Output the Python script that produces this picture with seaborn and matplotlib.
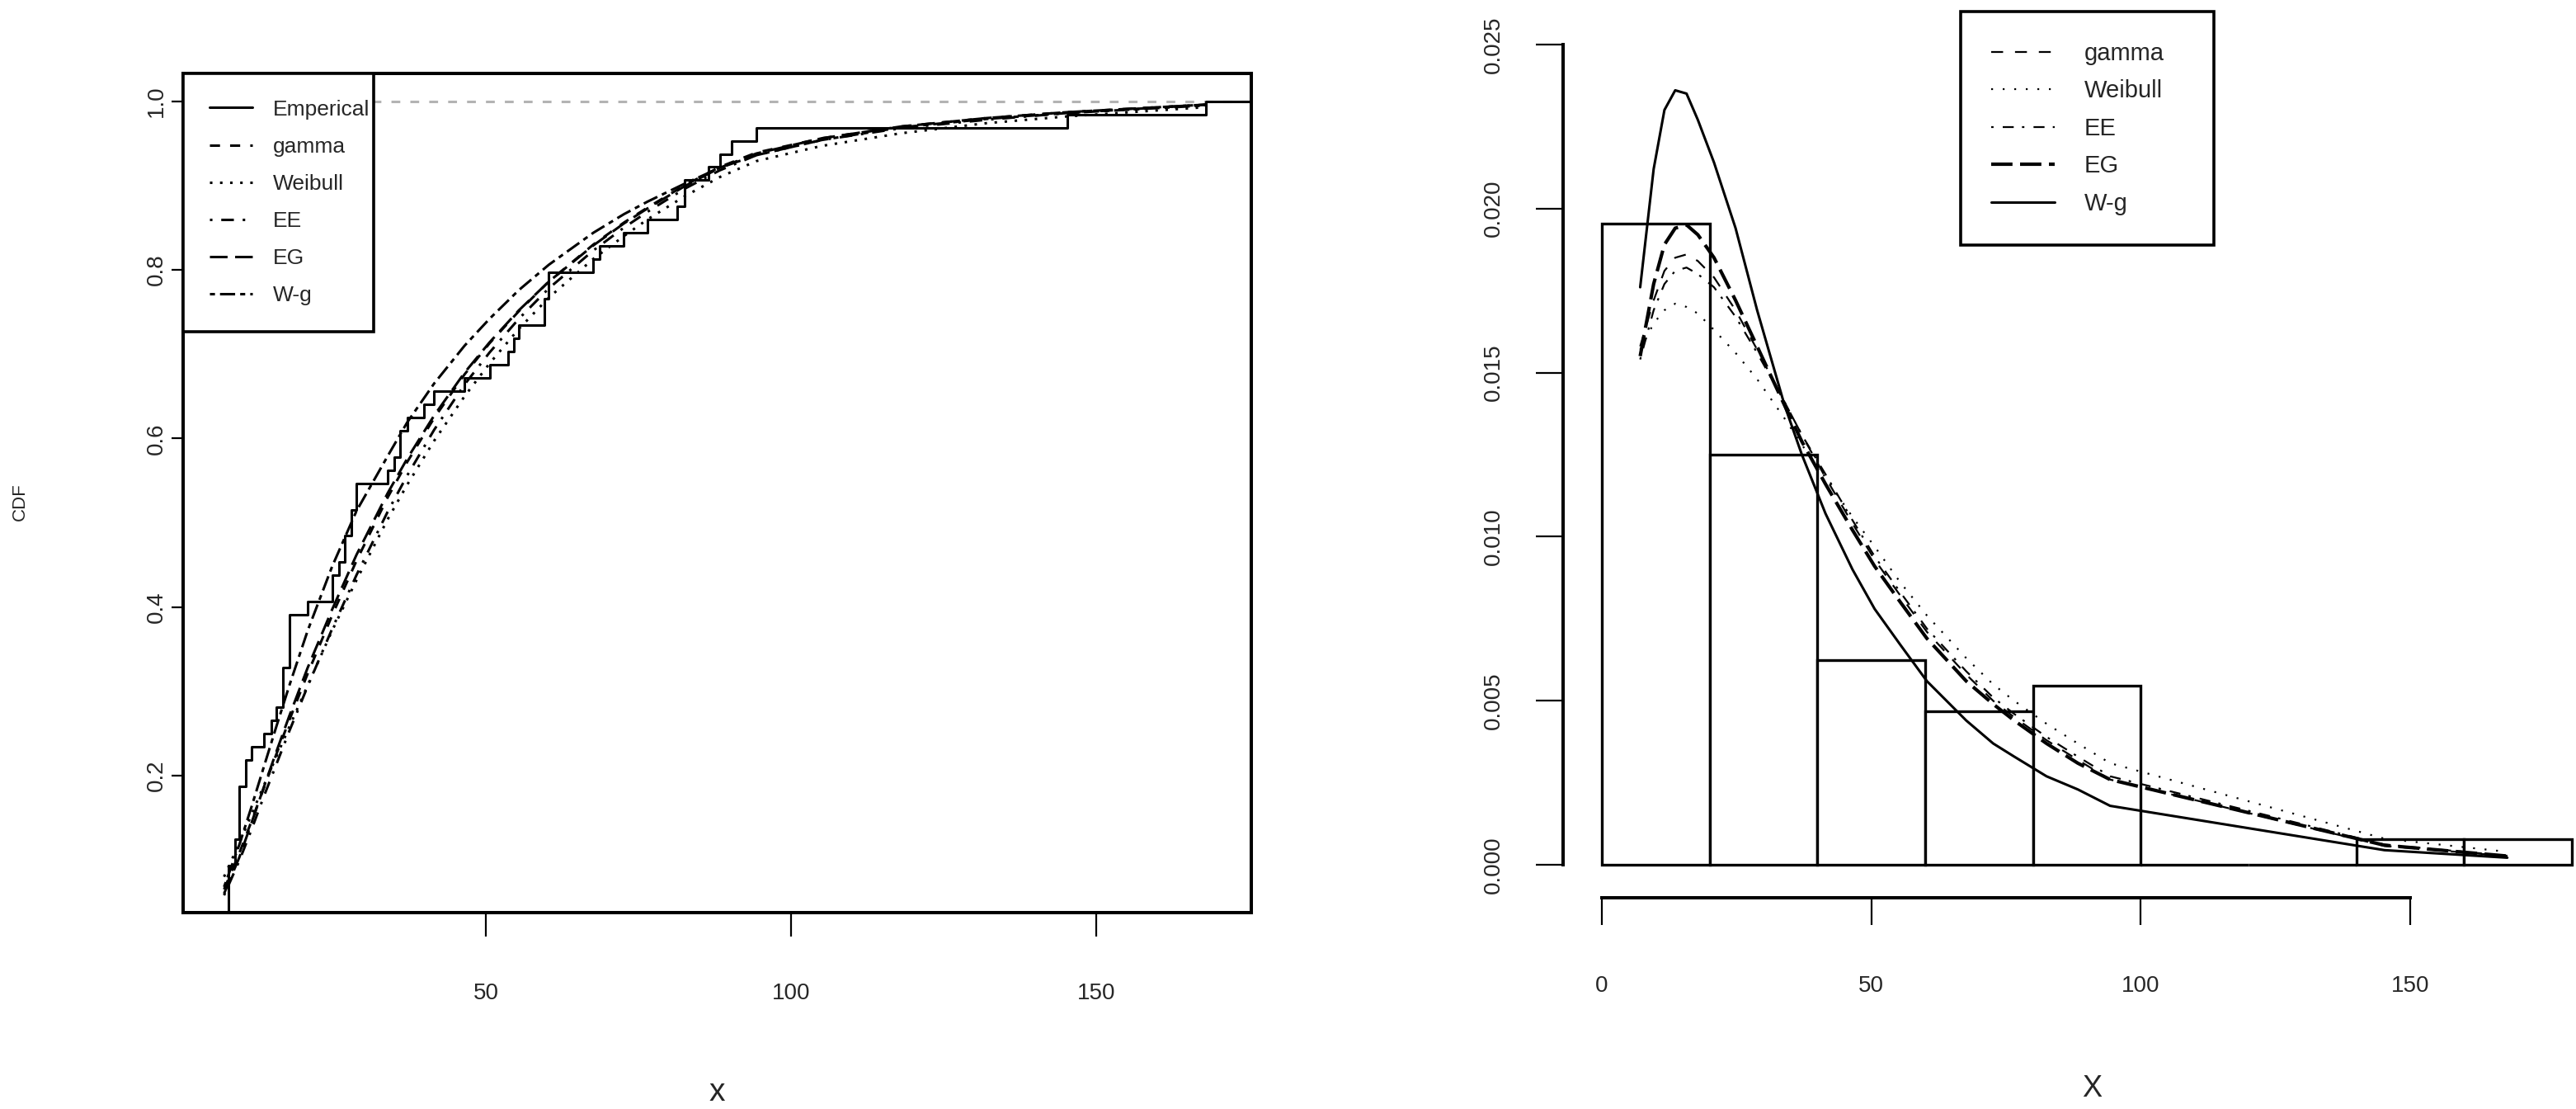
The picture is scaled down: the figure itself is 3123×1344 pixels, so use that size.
import numpy as np
import pandas as pd
import seaborn as sns
import matplotlib
matplotlib.use("Agg")
import matplotlib.pyplot as plt
from matplotlib.lines import Line2D

obs = [7.1, 7.5, 7.8, 7.8, 7.8, 7.8, 8.9, 8.9, 9.6, 9.6, 9.6, 9.6, 10.7, 10.7, 11.6,
       13.6, 14.8, 15.7, 16.8, 16.8, 16.8, 17.8, 17.8, 17.8, 17.8,
       20.8, 24.8, 24.8, 25.9, 26.9, 26.9, 27.9, 27.9, 28.8, 28.8, 33.9, 35.0, 35.9,
       35.9, 37.1, 39.9,
       41.5, 46.5, 50.6, 53.6, 54.6, 55.4, 59.6, 59.6,
       60.3, 60.3, 67.6, 68.6, 72.6, 76.5,
       81.4, 82.5, 82.5, 86.5, 88.3, 90.2, 94.3,
       145.2, 168.0]

hist_breaks = [0, 20, 40, 60, 80, 100, 120, 140, 160, 180]

# points where the fitted CDFs were drawn (left panel)
x_cdf = [7.1, 9.6, 11.6, 13.6, 15.7, 17.8, 20.8, 24.8, 28.8, 33.9, 37.1, 41.5, 46.5, 50.6,
         55.4, 60.3, 67.6, 72.6, 76.5, 82.5, 88.3, 94.3, 105.0, 118.0, 132.0, 145.2, 168.0]

cdf_gamma = [0.065, 0.108, 0.146, 0.185, 0.226, 0.266, 0.321, 0.390, 0.455, 0.530, 0.572, 0.624, 0.676,
             0.713, 0.751, 0.786, 0.830, 0.856, 0.874, 0.900, 0.922, 0.939, 0.956, 0.970, 0.980, 0.987, 0.996]
cdf_weibull = [0.080, 0.120, 0.154, 0.188, 0.223, 0.258, 0.307, 0.372, 0.432, 0.504, 0.545, 0.597, 0.650,
               0.689, 0.730, 0.767, 0.813, 0.840, 0.860, 0.887, 0.910, 0.929, 0.947, 0.962, 0.974, 0.982, 0.993]
cdf_ee = [0.058, 0.099, 0.136, 0.175, 0.214, 0.253, 0.306, 0.374, 0.438, 0.513, 0.556, 0.610, 0.664,
          0.702, 0.742, 0.778, 0.823, 0.850, 0.869, 0.896, 0.918, 0.936, 0.954, 0.968, 0.978, 0.986, 0.996]
cdf_eg = [0.060, 0.103, 0.144, 0.186, 0.229, 0.271, 0.328, 0.397, 0.462, 0.535, 0.576, 0.627, 0.678,
          0.714, 0.752, 0.786, 0.829, 0.855, 0.873, 0.899, 0.921, 0.938, 0.956, 0.970, 0.980, 0.987, 0.996]
cdf_wg = [0.068, 0.118, 0.163, 0.210, 0.259, 0.307, 0.372, 0.448, 0.514, 0.579, 0.619, 0.665, 0.710,
          0.742, 0.776, 0.806, 0.844, 0.866, 0.881, 0.902, 0.921, 0.936, 0.954, 0.969, 0.979, 0.986, 0.995]

# points where the fitted densities were drawn (right panel)
x_pdf = [7.1, 9.6, 11.6, 13.6, 15.7, 17.8, 20.8, 24.8, 28.8, 33.9, 37.1, 41.5,
         46.5, 50.6, 55.4, 60.3, 67.6, 72.6, 76.5, 82.5, 88.3, 94.3, 145.2, 168.0]

pdf_gamma = [0.0158, 0.0172, 0.0181, 0.0185, 0.0186, 0.0184, 0.0179, 0.0169, 0.0157, 0.0141, 0.0131, 0.0118,
             0.0104, 0.0093, 0.0082, 0.0071, 0.0058, 0.0050, 0.0045, 0.0038, 0.0032, 0.0026, 0.00058, 0.00027]
pdf_weibull = [0.0157, 0.0165, 0.0169, 0.0171, 0.0170, 0.0168, 0.0163, 0.0156, 0.0148, 0.0136, 0.0128, 0.0118,
               0.0106, 0.0097, 0.0086, 0.0076, 0.0063, 0.0055, 0.0050, 0.0043, 0.0037, 0.0031, 0.00080, 0.00040]
pdf_ee = [0.0154, 0.0169, 0.0177, 0.0181, 0.0182, 0.0180, 0.0176, 0.0167, 0.0156, 0.0141, 0.0131, 0.0119,
          0.0105, 0.0094, 0.0083, 0.0072, 0.0059, 0.0051, 0.0046, 0.0039, 0.0033, 0.0027, 0.00062, 0.00028]
pdf_eg = [0.0155, 0.0177, 0.0189, 0.0194, 0.0195, 0.0192, 0.0185, 0.0172, 0.0158, 0.0140, 0.0129, 0.0116,
          0.0102, 0.0091, 0.0080, 0.0069, 0.0056, 0.0049, 0.0044, 0.0037, 0.0031, 0.0026, 0.00060, 0.00027]
pdf_wg = [0.0176, 0.0212, 0.0230, 0.0236, 0.0235, 0.0227, 0.0214, 0.0194, 0.0169, 0.0140, 0.0125, 0.0107,
          0.0090, 0.0078, 0.0067, 0.0056, 0.0044, 0.0037, 0.0033, 0.0027, 0.0023, 0.0018, 0.00045, 0.00022]

models = ["gamma", "Weibull", "EE", "EG", "W-g"]
cdf_df = pd.DataFrame({"x": x_cdf, "gamma": cdf_gamma, "Weibull": cdf_weibull,
                       "EE": cdf_ee, "EG": cdf_eg, "W-g": cdf_wg})
pdf_df = pd.DataFrame({"x": x_pdf, "gamma": pdf_gamma, "Weibull": pdf_weibull,
                       "EE": pdf_ee, "EG": pdf_eg, "W-g": pdf_wg})

# line styles (R lty look-alikes)
left_style = {
    "gamma": dict(lw=2.2, ls=(0, (4, 4))),
    "Weibull": dict(lw=2.2, ls=(0, (1, 3))),
    "EE": dict(lw=2.2, ls=(0, (1, 3.5, 5, 3.5))),
    "EG": dict(lw=2.2, ls=(0, (7, 3))),
    "W-g": dict(lw=2.2, ls=(0, (2, 2, 6, 2))),
}
right_style = {
    "gamma": dict(lw=1.6, ls=(0, (6.5, 6.5))),
    "Weibull": dict(lw=1.6, ls=(0, (1, 5.3))),
    "EE": dict(lw=1.6, ls=(0, (1.3, 5, 6, 4.5))),
    "EG": dict(lw=3.0, ls=(0, (6.2, 2.2))),
    "W-g": dict(lw=2.2, ls="-"),
}

sns.set_style("ticks")
plt.rcParams["font.family"] = ["Liberation Sans", "DejaVu Sans"]

fig = plt.figure(figsize=(31.23, 13.44), dpi=100)
ax1 = fig.add_axes([0.0711, 0.1771, 0.4147, 0.7567])
ax2 = fig.add_axes([0.6068, 0.1905, 0.4067, 0.7991])

# ---- left panel: empirical vs fitted CDF ----
left_xlim = (0.4, 175.4)
ax1.axhline(1, color="#b3b3b3", lw=2.2, ls=(0, (3.5, 4)), zorder=1)
sns.ecdfplot(x=obs, ax=ax1, color="black", lw=2.2, zorder=3)
ax1.hlines(1, max(obs), left_xlim[1], color="black", lw=2.2, zorder=3)
for m in models:
    sns.lineplot(data=cdf_df, x="x", y=m, ax=ax1, color="black",
                 lw=left_style[m]["lw"], linestyle=left_style[m]["ls"], estimator=None)

ax1.set_xlim(*left_xlim)
ax1.set_ylim(0.0375, 1.033)
ax1.set_xticks([50, 100, 150])
ax1.set_yticks([0.2, 0.4, 0.6, 0.8, 1.0])
ax1.set_yticklabels(["0.2", "0.4", "0.6", "0.8", "1.0"], rotation=90, va="center")
ax1.tick_params(axis="both", direction="out", width=1.6, labelsize=20, color="black")
ax1.tick_params(axis="x", length=21, pad=40)
ax1.tick_params(axis="y", length=10, pad=4)
for s in ax1.spines.values():
    s.set_linewidth(2.9)
    s.set_color("black")
ax1.set_xlabel("x", fontsize=28, va="center")
ax1.xaxis.set_label_coords(0.5, -0.214)
ax1.set_ylabel("CDF", fontsize=16, va="center")
ax1.yaxis.set_label_coords(-0.153, 0.49)

left_handles = [Line2D([], [], color="black", lw=2.2)]
left_handles += [Line2D([], [], color="black", lw=left_style[m]["lw"], linestyle=left_style[m]["ls"])
                 for m in models]
leg1 = ax1.legend(left_handles, ["Emperical"] + models, loc="upper left",
                  bbox_to_anchor=(0, 0, 0.1784, 1), mode="expand", borderaxespad=0,
                  fancybox=False, framealpha=1, edgecolor="black", fontsize=19,
                  handlelength=1.97, handletextpad=0.95, borderpad=1.2, labelspacing=0.8)
leg1.get_frame().set_linewidth(2.6)

# ---- right panel: histogram with fitted densities ----
sns.histplot(x=obs, bins=hist_breaks, stat="density", ax=ax2, color="white",
             edgecolor="black", linewidth=2.4, alpha=1)
for m in models:
    sns.lineplot(data=pdf_df, x="x", y=m, ax=ax2, color="black",
                 lw=right_style[m]["lw"], linestyle=right_style[m]["ls"], estimator=None)

ax2.set_xlim(-7.2, 187.2)
ax2.set_ylim(-0.001, 0.026)
ax2.set_xticks([0, 50, 100, 150])
yt = [0.0, 0.005, 0.010, 0.015, 0.020, 0.025]
ax2.set_yticks(yt)
ax2.set_yticklabels([f"{t:.3f}" for t in yt], rotation=90, va="center")
ax2.tick_params(axis="both", direction="out", length=24, width=1.6, labelsize=20, color="black")
ax2.tick_params(axis="x", pad=44)
ax2.tick_params(axis="y", pad=27)
sns.despine(ax=ax2, trim=True)
for s in ax2.spines.values():
    s.set_linewidth(2.9)
    s.set_color("black")
ax2.set_ylabel("")
ax2.set_xlabel("X", fontsize=26, va="center")
ax2.xaxis.set_label_coords(0.5047, -0.216)

right_handles = [Line2D([], [], color="black", lw=right_style[m]["lw"], linestyle=right_style[m]["ls"])
                 for m in models]
leg2 = ax2.legend(right_handles, models, loc="upper left",
                  bbox_to_anchor=(0.3795, 0, 0.2418, 1), mode="expand", borderaxespad=0,
                  fancybox=False, framealpha=1, edgecolor="black", fontsize=21,
                  handlelength=2.64, handletextpad=1.23, borderpad=1.26, labelspacing=0.6)
leg2.get_frame().set_linewidth(2.6)

fig.savefig("out.png", dpi=100, facecolor="white")
